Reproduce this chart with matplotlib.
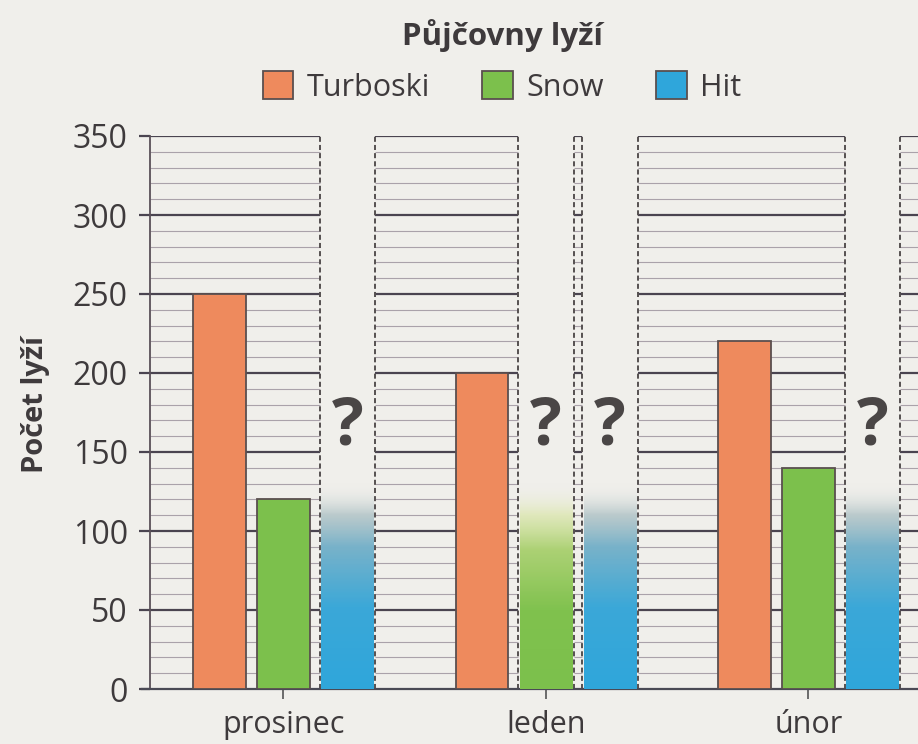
import numpy as np
import matplotlib
matplotlib.use('Agg')
import matplotlib.pyplot as plt
from matplotlib.patches import Patch
from matplotlib.colors import to_rgb

plt.rcParams['font.family'] = ['Open Sans', 'DejaVu Sans']

# ---------------- data ----------------
title = 'Půjčovny lyží'
ylabel = 'Počet lyží'
months = ['prosinec', 'leden', 'únor']
series = ['Turboski', 'Snow', 'Hit']
turboski = [250, 200, 220]
snow = [120, None, 140]
hit = [None, None, None]          # unknown values, shown as "?"
unknown_mark = '?'
yticks = [0, 50, 100, 150, 200, 250, 300, 350]

# ---------------- style ----------------
paper = '#f0efeb'
text_c = '#3e3a3c'
bar_colors = ['#ee8a5d', '#7cc04c', '#2fa6db']
edge_c = '#5a4f4f'
major_c = '#4a4450'
minor_c = '#aaa2aa'
offsets = [-0.244, 0.0, 0.244]
bar_w = 0.2
gap_pad = 0.006
minor_step = 10
# gradient stops for unknown bars: (value, colour, alpha)
grad_stops = {
    1: [(0, '#7cc04c', 1.0), (50, '#80c24e', 1.0), (88, '#a9d06e', 0.95),
        (110, '#dbe6ac', 0.75), (130, '#f0efeb', 0.0)],
    2: [(0, '#2fa6db', 1.0), (52, '#3ba8d8', 1.0), (90, '#72afc8', 0.95),
        (110, '#a9bec2', 0.75), (130, '#f0efeb', 0.0)],
}
grad_top = 140

W, H = 918, 744
fig = plt.figure(figsize=(W / 100, H / 100), dpi=100, facecolor=paper)
ax = fig.add_axes([150 / W, 1 - 689 / H, 768 / W, (689 - 136) / H])
ax.set_facecolor(paper)
xl, xr = -0.508, -0.508 + 768 / 262.5
ax.set_xlim(xl, xr)
ax.set_ylim(0, 350)

values = [turboski, snow, hit]
x = np.arange(len(months))

# gaps where values are unknown
gaps = []
for j, vals in enumerate(values):
    for i, v in enumerate(vals):
        if v is None:
            c = x[i] + offsets[j]
            gaps.append((c - bar_w / 2 - gap_pad, c + bar_w / 2 + gap_pad))
gaps.sort()
panels = []
start = xl
for a, b in gaps:
    panels.append((start, a))
    start = b
panels.append((start, xr + 0.5))

# grid lines inside panels
for y in range(minor_step, 351, minor_step):
    major = (y % 50 == 0)
    for a, b in panels:
        ax.hlines(y, a, b, colors=major_c if major else minor_c,
                  linewidth=1.6 if major else 0.8, zorder=1)
# dashed edges of gaps
for a, b in gaps:
    ax.vlines([a, b], 0, 350, colors='#555050', linewidth=1.4,
              linestyles=(0, (2.6, 1.6)), zorder=1.5)

# known bars
for j, vals in enumerate(values):
    for i, v in enumerate(vals):
        if v is not None:
            ax.bar(x[i] + offsets[j], v, width=bar_w, color=bar_colors[j],
                   edgecolor=edge_c, linewidth=1.3, zorder=3)

# unknown bars: gradient + "?"
yy = np.linspace(0, grad_top, 300)
for j, vals in enumerate(values):
    for i, v in enumerate(vals):
        if v is None:
            st = grad_stops[j]
            sv = [s[0] for s in st]
            rgb = np.array([to_rgb(s[1]) for s in st])
            al = [s[2] for s in st]
            img = np.zeros((len(yy), 1, 4))
            for k in range(3):
                img[:, 0, k] = np.interp(yy, sv, rgb[:, k])
            img[:, 0, 3] = np.interp(yy, sv, al)
            c = x[i] + offsets[j]
            ax.imshow(img, extent=[c - bar_w / 2, c + bar_w / 2, 0, grad_top],
                      origin='lower', aspect='auto', zorder=3,
                      interpolation='bilinear')
            ax.text(c, 166, unknown_mark, ha='center', va='center',
                    fontsize=48, fontweight='bold', color='#4a4646', zorder=4)
ax.set_xlim(xl, xr)
ax.set_ylim(0, 350)

# axes styling
for s in ['top', 'right']:
    ax.spines[s].set_visible(False)
ax.spines['left'].set_color('#5a5058')
ax.spines['left'].set_linewidth(1.3)
ax.spines['bottom'].set_color('#4a4a55')
ax.spines['bottom'].set_linewidth(1.6)
ax.spines['bottom'].set_bounds(xl - 0.03, xr + 0.5)
ax.set_yticks(yticks)
ax.set_yticklabels([str(t) for t in yticks])
ax.tick_params(axis='y', length=8, width=1.6, color=major_c, pad=8,
               labelsize=23, labelcolor=text_c)
ax.set_xticks(x)
ax.set_xticklabels(months)
ax.tick_params(axis='x', length=14, width=1.2, color='#555555',
               direction='inout', pad=8, labelsize=22, labelcolor=text_c)

fig.text(36 / W, 1 - 405 / H, ylabel, rotation=90, ha='center', va='center',
         fontsize=21, fontweight='bold', color=text_c)
fig.text(502 / W, 1 - 36 / H, title, ha='center', va='center',
         fontsize=22.5, fontweight='bold', color=text_c)

handles = [Patch(facecolor=bar_colors[k], edgecolor=edge_c, linewidth=1.3)
           for k in range(3)]
fig.legend(handles, series, loc='center', bbox_to_anchor=(502 / W, 1 - 87 / H),
           ncol=3, frameon=False, fontsize=22, handlelength=1.0,
           handleheight=1.0, handletextpad=0.45, columnspacing=1.7,
           labelcolor=text_c, borderaxespad=0, borderpad=0)

fig.savefig('out.png', dpi=100, facecolor=paper)
